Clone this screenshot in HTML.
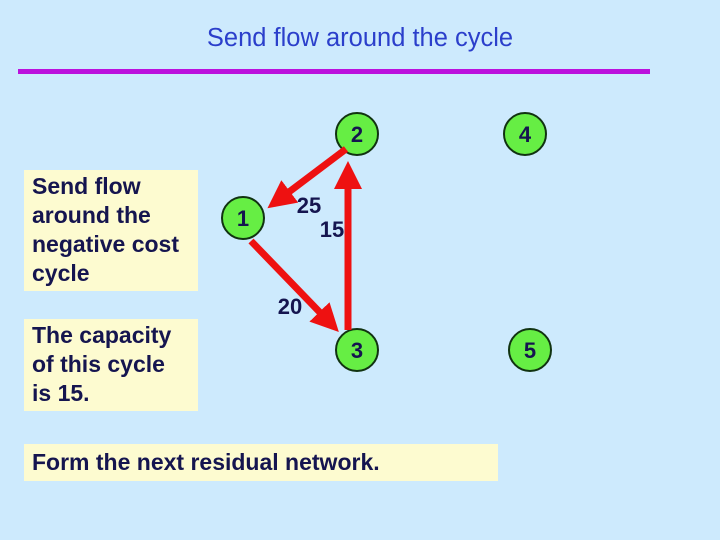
<!DOCTYPE html>
<html><head><style>
body{margin:0;width:720px;height:540px;background:#cdeafd;position:relative;overflow:hidden;font-family:"Liberation Sans",sans-serif;font-weight:bold;}
.t{position:absolute;}
.box{position:absolute;background:#fdfbd0;color:#15154f;font-size:23px;line-height:29px;box-sizing:border-box;padding-left:8px;white-space:nowrap;}
</style></head><body>
<div class="t" style="left:0;width:720px;top:24px;text-align:center;font-size:25.5px;color:#2b3fcb;font-weight:normal;">Send flow around the cycle</div>
<div class="t" style="left:18px;top:69px;width:632px;height:5px;background:#bb11dd;"></div>
<div class="box" style="left:24px;top:170px;width:174px;height:121px;padding-top:2px;">Send flow<br>around the<br>negative cost<br>cycle</div>
<div class="box" style="left:24px;top:319px;width:174px;height:92px;padding-top:2px;">The capacity<br>of this cycle<br>is 15.</div>
<div class="box" style="left:24px;top:444px;width:474px;height:37px;padding-top:4px;">Form the next residual network.</div>
<svg class="t" style="left:0;top:0" width="720" height="540">
<defs><marker id="a" markerWidth="4" markerHeight="4" refX="3" refY="2" orient="auto" markerUnits="strokeWidth"><path d="M0,0 L4,2 L0,4z" fill="#ee1111"/></marker></defs>
<g fill="#66ee44" stroke="#113311" stroke-width="2">
<circle cx="357" cy="134" r="21"/><circle cx="525" cy="134" r="21"/><circle cx="243" cy="218" r="21"/><circle cx="357" cy="350" r="21"/><circle cx="530" cy="350" r="21"/></g>
<g stroke="#ee1111" stroke-width="7" fill="none">
<line x1="346" y1="149" x2="273" y2="204" marker-end="url(#a)"/>
<line x1="251" y1="241" x2="334" y2="327" marker-end="url(#a)"/>
<line x1="348" y1="330" x2="348" y2="168" marker-end="url(#a)"/>
</g>
<g font-family="Liberation Sans" font-weight="bold" font-size="22" fill="#15154f" text-anchor="middle">
<text x="357" y="142">2</text><text x="525" y="142">4</text><text x="243" y="226">1</text><text x="357" y="358">3</text><text x="530" y="358">5</text>
<text x="309" y="213">25</text><text x="332" y="237">15</text><text x="290" y="314">20</text>
</g></svg>
</body></html>
